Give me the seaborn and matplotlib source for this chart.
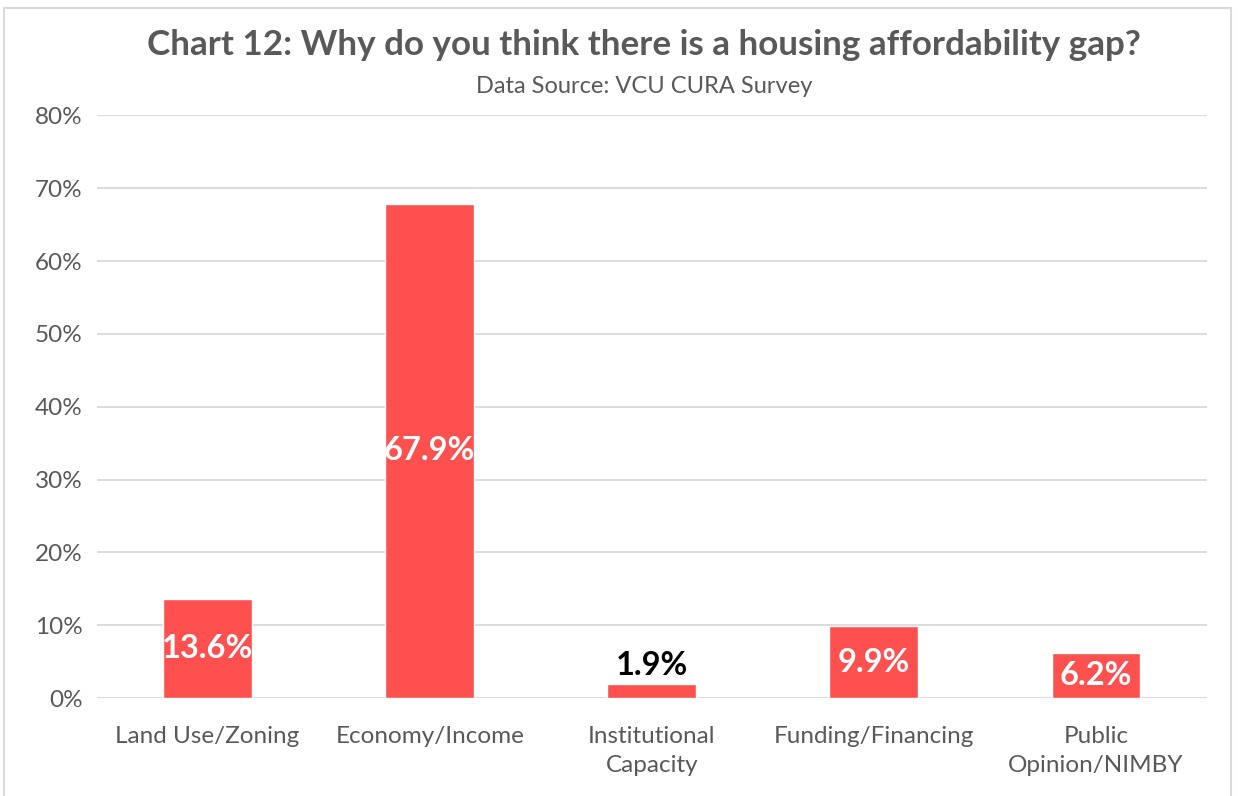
import matplotlib
matplotlib.use('Agg')
import matplotlib.pyplot as plt
import seaborn as sns
import pandas as pd
from matplotlib.patches import Rectangle

categories = ['Land Use/Zoning', 'Economy/Income', 'Institutional\nCapacity',
              'Funding/Financing', 'Public\nOpinion/NIMBY']
values = [13.6, 67.9, 1.9, 9.9, 6.2]
labels = ['13.6%', '67.9%', '1.9%', '9.9%', '6.2%']

df = pd.DataFrame({'Category': categories, 'Value': values})

sns.set_style('white')
plt.rcParams['font.family'] = ['Lato', 'DejaVu Sans']

fig = plt.figure(figsize=(12.38, 7.96), dpi=100)
ax = fig.add_axes([0.078, 0.123, 0.897, 0.732])

sns.barplot(data=df, x='Category', y='Value', color='#FF5050', width=0.4,
            saturation=1, ax=ax)

ax.set_ylim(0, 80)
ax.set_xlim(-0.5, 4.5)
ax.set_yticks(range(0, 81, 10))
ax.set_yticklabels([f'{v}%' for v in range(0, 81, 10)])
ax.yaxis.grid(True, color='#d9d9d9', linewidth=1.3)
ax.set_axisbelow(True)
for s in ax.spines.values():
    s.set_visible(False)
ax.tick_params(axis='both', length=0, labelsize=17.5, labelcolor='#595959', pad=10)
ax.tick_params(axis='x', pad=20)
for t in ax.get_xticklabels():
    t.set_linespacing(1.5)
ax.set_xlabel('')
ax.set_ylabel('')

for i, (v, lab) in enumerate(zip(values, labels)):
    if v < 3:
        ax.text(i, v + 0.6, lab, ha='center', va='bottom', fontsize=23.5,
                fontweight='bold', color='black')
    else:
        ax.text(i, v / 2, lab, ha='center', va='center', fontsize=23.5,
                fontweight='bold', color='white')

fig.text(0.52, 0.943, 'Chart 12: Why do you think there is a housing affordability gap?',
         ha='center', va='center', fontsize=25.2, fontweight='bold', color='#595959')
fig.text(0.52, 0.891, 'Data Source: VCU CURA Survey', ha='center', va='center',
         fontsize=17, color='#595959')

fig.add_artist(Rectangle((0.003, -0.01), 0.991, 1.0, transform=fig.transFigure,
                         fill=False, edgecolor='#d9d9d9', linewidth=1.5))

fig.savefig('out.png', dpi=100)
